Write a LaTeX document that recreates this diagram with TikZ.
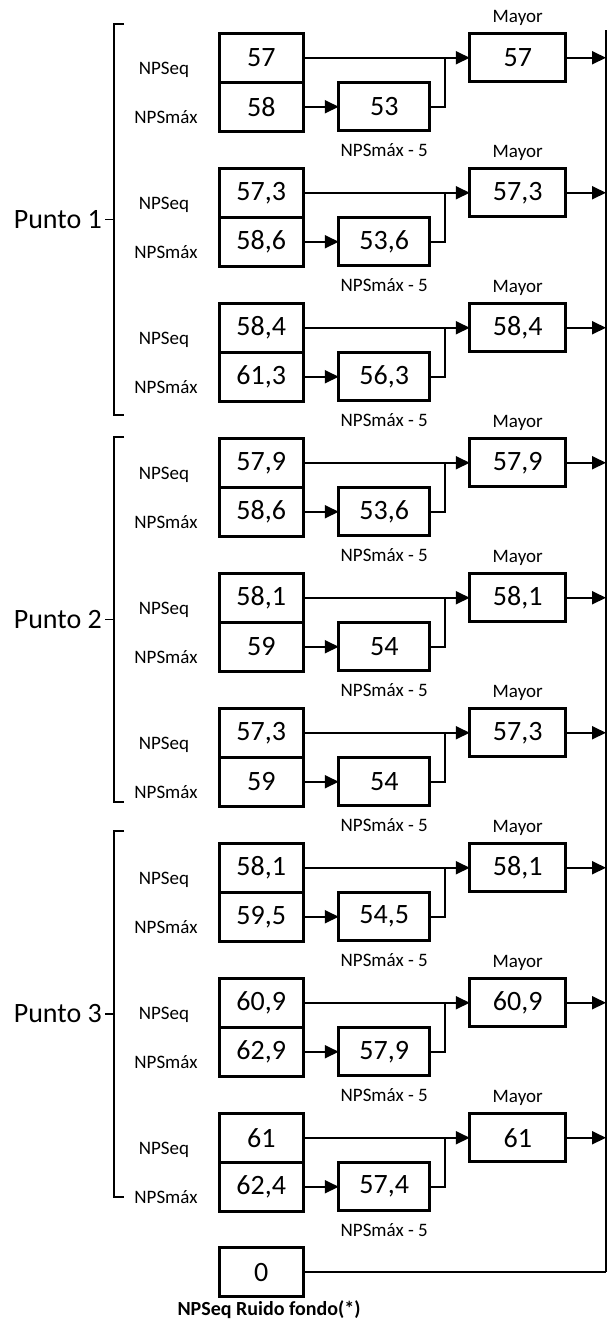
\documentclass[tikz,border=0pt]{standalone}
\usepackage{fontspec}
\setmainfont{Carlito}
\usetikzlibrary{arrows.meta,positioning}

\begin{document}
\begin{tikzpicture}[
  x=1pt, y=-1pt,
  box/.style={draw, line width=2.7pt, outer sep=0pt, minimum width=84pt,
    minimum height=49pt, font=\fontsize{28}{30}\selectfont},
  difbox/.style={box, minimum width=91pt, minimum height=48pt},
  maybox/.style={box, minimum width=96pt, minimum height=48pt},
  lbl/.style={font=\fontsize{19}{21}\selectfont, inner sep=1pt},
  punto/.style={font=\fontsize{28}{30}\selectfont, inner sep=2pt},
  arr/.style={-{Triangle[length=14pt,width=13pt]}, line width=1.9pt},
  lin/.style={line width=1.9pt},
  brk/.style={line width=1.7pt}
]
\useasboundingbox (0,0) rectangle (608,1320);
\coordinate (rt) at (606,30);
\coordinate (rb) at (606,1272);

% one group per measurement: NPSeq, NPSmax, NPSmax - 5, Mayor
\foreach \k/\eqv/\mxv/\difv in {0/57/58/53, 1/{57,3}/{58,6}/{53,6},
    2/{58,4}/{61,3}/{56,3}, 3/{57,9}/{58,6}/{53,6}, 4/{58,1}/59/54,
    5/{57,3}/59/54, 6/{58,1}/{59,5}/{54,5}, 7/{60,9}/{62,9}/{57,9},
    8/61/{62,4}/{57,4}}{
  \pgfmathsetmacro\t{33+135*\k}
  \node[box] (eq\k) at (261.25,\t+24.75) {\eqv};
  \node[box, below=0pt of eq\k] (mx\k) {\mxv};
  \node[difbox, right=35.5pt of mx\k] (dif\k) {\difv};
  \node[maybox, right=166.5pt of eq\k] (may\k) {\eqv};
  \node[lbl] (leq\k) at (164,\t+37) {NPSeq};
  \node[lbl] (lmx\k) at (166,\t+84) {NPSmáx};
  \node[lbl, below=12pt of dif\k] (ldif\k) {NPSmáx - 5};
  \node[lbl, above=7pt of may\k] (lmay\k) {Mayor};
  \coordinate (j\k) at (445,\t+24.75);
  \draw[arr] (eq\k) -- (may\k);
  \draw[arr] (mx\k) -- (dif\k);
  \draw[lin] (dif\k.east) -| (j\k);
  \draw[arr] (may\k) -- (may\k -| rt);
}

% brackets for the three points
\foreach \p/\top/\bot in {1/24/415, 2/437/802, 3/831/1197}{
  \draw[brk] (124,\top) -- (114,\top) -- (114,\bot) -- (124,\bot);
  \draw[brk] (114,{(\top+\bot)/2}) -- ++(-9,0) coordinate (tick\p);
  \node[punto, left=1pt of tick\p] (punto\p) {Punto \p};
}

% background noise
\node[box] (zero) at (261.25,1272) {0};
\node[font=\bfseries\fontsize{20}{22}\selectfont, inner sep=1pt] (lzero) at (269,1310) {NPSeq Ruido fondo(*)};
\draw[lin] (zero) -- (zero -| rb);
\draw[line width=2pt] (rt) -- (rb);
\end{tikzpicture}
\end{document}
